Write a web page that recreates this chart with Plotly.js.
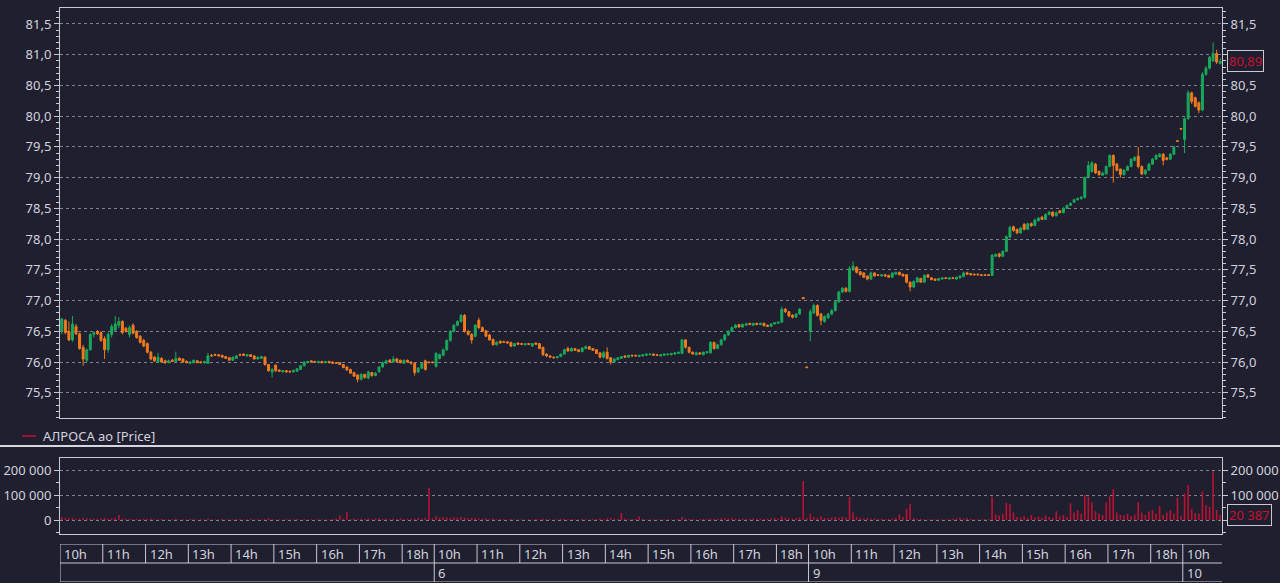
<!DOCTYPE html>
<html>
<head>
<meta charset="utf-8">
<script src="https://cdn.plot.ly/plotly-3.0.1.min.js"></script>
<style>
  html, body { margin: 0; padding: 0; background: #1f1f30; }
  #chart { width: 1280px; height: 583px; }
</style>
</head>
<body>
<div id="chart"></div>
<script>
// ---------------- DATA (5-minute candles, ALROSA) ----------------
const dayLabels = ['', '6', '9', '10'];
const hourLabels = ['10h','11h','12h','13h','14h','15h','16h','17h','18h'];
const lastDayHours = ['10h'];
const seriesName = 'АЛРОСА ао [Price]';

// Day 1
const open1 = [76.50,76.68,76.50,76.36,76.58,76.46,76.24,76.03,76.20,76.45, 76.50,76.48,76.38,76.20,76.45,76.52,76.60,76.66,76.55,76.45, 76.60,76.50,76.42,76.35,76.30,76.16,76.08,76.00,76.06,76.02, 75.99,76.03,76.01,76.06,76.05,76.01,75.98,75.99,76.02,76.00, 75.99,75.98,76.11,76.12,76.12,76.11,76.09,76.07,76.03,76.06, 76.12,76.13,76.10,76.12,76.10,76.05,76.06,76.08,75.96,75.84, 75.95,75.87,75.84,75.86,75.85,75.84,75.85,75.88,75.94,75.99, 76.02,76.01,75.99,76.01,75.99,76.01,76.00,75.99,75.99,75.96, 75.92,75.88,75.83,75.79,75.72,75.80,75.74,75.83,75.78,75.84, 75.92,75.98,76.03,76.00,76.05,76.03,75.98,76.03,76.00,75.98, 75.84,75.90,76.02,76.00,76.00];
const high1 = [76.72,76.70,76.66,76.75,76.62,76.48,76.28,76.22,76.47,76.50, 76.52,76.50,76.42,76.48,76.62,76.75,76.73,76.68,76.57,76.60, 76.63,76.52,76.44,76.38,76.32,76.18,76.10,76.15,76.08,76.04, 76.04,76.05,76.17,76.08,76.06,76.03,76.02,76.04,76.03,76.02, 76.02,76.15,76.13,76.14,76.13,76.12,76.10,76.08,76.09,76.12, 76.14,76.14,76.13,76.13,76.11,76.09,76.10,76.09,75.97,75.90, 75.96,75.88,75.87,75.87,75.86,75.88,75.90,75.95,76.01,76.02, 76.03,76.02,76.02,76.02,76.02,76.02,76.01,76.00,76.00,75.97, 75.93,75.89,75.84,75.80,75.82,75.81,75.86,75.84,75.84,75.93, 76.01,76.04,76.05,76.10,76.07,76.04,76.04,76.04,76.01,75.99, 75.92,76.00,76.04,76.01,76.01];
const low1 = [76.45,76.45,76.34,76.33,76.44,76.20,75.94,76.00,76.18,76.40, 76.44,76.33,76.05,76.15,76.40,76.50,76.55,76.45,76.48,76.40, 76.45,76.38,76.30,76.24,76.14,76.03,76.00,75.98,75.99,75.97, 75.98,76.00,76.00,76.02,75.99,75.98,75.97,75.98,75.98,75.98, 75.97,75.97,76.09,76.10,76.09,76.07,76.05,76.02,76.02,76.05, 76.10,76.10,76.09,76.08,76.04,76.04,76.05,75.94,75.84,75.75, 75.84,75.84,75.83,75.83,75.83,75.83,75.84,75.87,75.93,75.98, 75.99,75.99,75.98,75.98,75.98,75.98,75.97,75.97,75.95,75.90, 75.86,75.81,75.76,75.67,75.70,75.73,75.72,75.76,75.77,75.83, 75.91,75.97,75.99,75.99,76.00,75.98,75.97,75.99,75.96,75.78, 75.82,75.89,75.86,75.99,75.99];
const close1 = [76.70,76.48,76.36,76.62,76.46,76.22,76.05,76.20,76.45,76.48, 76.46,76.35,76.20,76.45,76.58,76.62,76.66,76.48,76.50,76.56, 76.47,76.40,76.32,76.26,76.16,76.05,76.02,76.08,76.00,75.99, 76.02,76.01,76.06,76.03,76.00,75.99,76.00,76.03,75.99,75.99, 76.01,76.10,76.10,76.11,76.10,76.08,76.06,76.03,76.08,76.10, 76.11,76.11,76.12,76.09,76.05,76.08,76.09,75.96,75.86,75.88, 75.86,75.85,75.86,75.84,75.84,75.86,75.89,75.94,76.00,76.01, 76.00,76.00,76.01,75.99,76.01,75.99,75.98,75.98,75.96,75.91, 75.87,75.82,75.77,75.72,75.80,75.75,75.84,75.78,75.82,75.92, 75.99,76.02,76.00,76.05,76.01,75.99,76.03,76.00,75.98,75.83, 75.90,75.98,75.88,75.99,75.99];
const volume1 = [12000,9000,7000,8000,5000,6000,9000,7000,6000,5000, 4000,6000,8000,5000,7000,9000,20000,6000,4000,5000, 3000,4000,3000,5000,4000,6000,3000,2000,4000,3000, 2000,3000,5000,2000,3000,2000,4000,3000,2000,3000, 2000,6000,3000,2000,3000,4000,2000,3000,2000,4000, 3000,2000,3000,5000,2000,3000,2000,4000,7000,3000, 2000,3000,2000,3000,2000,3000,4000,2000,3000,2000, 3000,2000,3000,2000,3000,2000,4000,6000,18000,5000, 33000,4000,6000,3000,5000,4000,7000,3000,5000,8000, 4000,6000,3000,5000,4000,7000,3000,5000,4000,6000, 8000,5000,9000,128000,6000];

// Day 2 (6)
const open2 = [75.93,76.06,76.11,76.20,76.35,76.50,76.60,76.66,76.76,76.50, 76.45,76.42,76.68,76.56,76.51,76.44,76.37,76.28,76.34,76.33, 76.33,76.32,76.26,76.31,76.30,76.28,76.30,76.26,76.31,76.30, 76.24,76.13,76.10,76.08,76.07,76.09,76.13,76.22,76.18,76.22, 76.20,76.17,76.22,76.25,76.22,76.20,76.15,76.08,76.16,76.07, 76.00,76.04,76.06,76.10,76.08,76.11,76.11,76.09,76.10,76.11, 76.12,76.13,76.12,76.10,76.11,76.12,76.12,76.13,76.14,76.14, 76.36,76.24,76.16,76.12,76.15,76.12,76.15,76.15,76.32,76.22, 76.28,76.36,76.44,76.50,76.56,76.61,76.57,76.60,76.63,76.60, 76.63,76.61,76.63,76.60,76.58,76.62,76.63,76.65,76.86,76.82, 76.76,76.73,76.78,77.05,75.92];
const high2 = [76.16,76.14,76.22,76.37,76.52,76.62,76.68,76.78,76.78,76.52, 76.47,76.62,76.72,76.58,76.52,76.46,76.38,76.34,76.35,76.35, 76.34,76.33,76.31,76.32,76.31,76.31,76.31,76.31,76.32,76.31, 76.25,76.14,76.11,76.09,76.10,76.14,76.22,76.25,76.24,76.23, 76.21,76.24,76.27,76.26,76.23,76.21,76.16,76.18,76.24,76.08, 76.06,76.08,76.10,76.11,76.12,76.12,76.12,76.12,76.13,76.14, 76.14,76.14,76.13,76.13,76.14,76.14,76.15,76.16,76.17,76.38, 76.37,76.25,76.17,76.17,76.16,76.17,76.18,76.34,76.33,76.30, 76.38,76.46,76.52,76.58,76.62,76.62,76.63,76.64,76.64,76.64, 76.64,76.64,76.64,76.61,76.63,76.65,76.66,76.90,76.88,76.83, 76.78,76.80,76.88,77.06,75.93];
const low2 = [75.91,76.04,76.10,76.18,76.33,76.48,76.58,76.64,76.48,76.43, 76.30,76.40,76.54,76.49,76.41,76.35,76.27,76.27,76.30,76.31, 76.30,76.24,76.25,76.28,76.28,76.27,76.28,76.25,76.28,76.21, 76.10,76.08,76.07,76.06,76.06,76.08,76.12,76.17,76.17,76.18, 76.16,76.16,76.21,76.20,76.18,76.13,76.06,76.06,76.04,75.96, 75.98,76.03,76.05,76.07,76.07,76.09,76.09,76.08,76.09,76.10, 76.11,76.10,76.10,76.09,76.10,76.11,76.11,76.12,76.13,76.13, 76.22,76.14,76.12,76.11,76.12,76.11,76.14,76.14,76.20,76.21, 76.27,76.35,76.43,76.49,76.55,76.56,76.56,76.59,76.60,76.59, 76.60,76.60,76.58,76.57,76.57,76.61,76.62,76.64,76.80,76.73, 76.71,76.72,76.77,77.03,75.90];
const close2 = [76.14,76.12,76.20,76.35,76.50,76.60,76.66,76.76,76.50,76.45, 76.36,76.60,76.56,76.50,76.42,76.36,76.28,76.32,76.31,76.32, 76.31,76.26,76.30,76.29,76.29,76.30,76.29,76.30,76.29,76.22, 76.12,76.10,76.08,76.07,76.09,76.13,76.20,76.18,76.22,76.19, 76.17,76.23,76.25,76.21,76.19,76.14,76.08,76.15,76.06,76.00, 76.05,76.07,76.09,76.08,76.11,76.10,76.10,76.11,76.12,76.13, 76.13,76.11,76.11,76.12,76.13,76.13,76.14,76.15,76.16,76.36, 76.24,76.16,76.13,76.15,76.13,76.16,76.17,76.32,76.22,76.28, 76.36,76.44,76.50,76.56,76.60,76.57,76.61,76.62,76.61,76.63, 76.61,76.63,76.59,76.58,76.62,76.64,76.65,76.86,76.82,76.75, 76.73,76.78,76.86,77.03,75.91];
const volume2 = [15000,9000,12000,10000,8000,11000,9000,12000,10000,7000, 8000,9000,6000,5000,7000,4000,6000,3000,4000,3000, 2000,4000,3000,2000,3000,2000,3000,2000,4000,3000, 5000,4000,3000,2000,3000,4000,5000,3000,4000,2000, 3000,4000,3000,2000,3000,4000,6000,4000,7000,9000, 5000,4000,28000,6000,3000,4000,5000,14000,4000,3000, 2000,3000,2000,3000,2000,3000,2000,3000,4000,12000, 6000,4000,3000,2000,3000,4000,3000,6000,4000,5000, 7000,8000,6000,9000,5000,4000,6000,5000,4000,7000, 5000,6000,4000,5000,6000,8000,5000,15000,9000,7000, 6000,8000,10000,156000,8000];

// Day 3 (9)
const open3 = [76.50,76.80,76.92,76.78,76.66,76.72,76.78,76.84,76.98,77.14, 77.20,77.15,77.50,77.54,77.47,77.45,77.40,77.35,77.45,77.42, 77.40,77.42,77.41,77.38,77.43,77.46,77.43,77.42,77.30,77.22, 77.30,77.36,77.30,77.42,77.37,77.35,77.33,77.35,77.37,77.35, 77.37,77.35,77.37,77.39,77.45,77.44,77.43,77.43,77.42,77.42, 77.42,77.41,77.72,77.76,77.72,77.80,78.03,78.20,78.16,78.10, 78.24,78.16,78.25,78.22,78.30,78.36,78.32,78.40,78.44,78.38, 78.46,78.43,78.50,78.55,78.60,78.64,78.66,78.68,79.00,79.10, 79.22,79.10,79.04,79.06,79.18,79.36,79.22,79.14,79.05,79.12, 79.18,79.28,79.35,79.18,79.06,79.12,79.22,79.30,79.34,79.38, 79.32,79.30,79.38,79.60,79.80];
const high3 = [76.86,76.95,76.94,76.80,76.76,76.80,76.86,77.00,77.16,77.22, 77.22,77.56,77.64,77.56,77.48,77.46,77.41,77.47,77.46,77.43, 77.43,77.43,77.42,77.46,77.47,77.47,77.44,77.43,77.31,77.33, 77.39,77.37,77.43,77.43,77.38,77.36,77.37,77.38,77.38,77.38, 77.38,77.39,77.41,77.47,77.47,77.45,77.44,77.44,77.43,77.43, 77.43,77.76,77.77,77.78,77.82,78.06,78.22,78.22,78.17,78.20, 78.26,78.27,78.27,78.33,78.36,78.37,78.42,78.46,78.45,78.45, 78.47,78.52,78.56,78.60,78.66,78.68,78.70,79.02,79.27,79.27, 79.24,79.12,79.10,79.20,79.38,79.38,79.24,79.15,79.14,79.20, 79.32,79.35,79.50,79.20,79.14,79.24,79.32,79.38,79.40,79.40, 79.34,79.40,79.52,79.61,79.81];
const low3 = [76.34,76.78,76.74,76.60,76.64,76.70,76.76,76.82,76.96,77.12, 77.13,77.13,77.48,77.44,77.41,77.37,77.33,77.34,77.39,77.40, 77.39,77.39,77.37,77.37,77.42,77.41,77.39,77.28,77.15,77.20, 77.29,77.29,77.29,77.37,77.33,77.32,77.32,77.34,77.35,77.34, 77.35,77.34,77.36,77.38,77.42,77.41,77.41,77.41,77.40,77.40, 77.40,77.40,77.71,77.70,77.71,77.79,78.02,78.12,78.08,78.09, 78.14,78.15,78.20,78.21,78.29,78.31,78.31,78.39,78.36,78.37, 78.42,78.42,78.49,78.54,78.59,78.63,78.64,78.66,78.99,79.08, 79.06,79.03,79.03,79.05,79.17,78.92,79.10,79.00,79.03,79.11, 79.17,79.27,79.15,79.04,79.04,79.11,79.21,79.29,79.33,79.20, 79.28,79.29,79.37,79.58,79.78];
const close3 = [76.82,76.92,76.76,76.68,76.74,76.78,76.84,76.98,77.14,77.20, 77.15,77.52,77.56,77.46,77.42,77.38,77.35,77.45,77.40,77.41, 77.42,77.40,77.38,77.45,77.46,77.42,77.40,77.30,77.22,77.31, 77.37,77.30,77.41,77.38,77.34,77.33,77.36,77.37,77.36,77.37, 77.36,77.38,77.40,77.45,77.43,77.42,77.42,77.42,77.41,77.41, 77.41,77.74,77.75,77.72,77.80,78.04,78.19,78.14,78.10,78.18, 78.16,78.25,78.22,78.31,78.34,78.32,78.40,78.44,78.38,78.43, 78.43,78.50,78.55,78.58,78.64,78.66,78.68,79.00,79.20,79.24, 79.08,79.05,79.07,79.18,79.36,79.20,79.12,79.05,79.12,79.18, 79.30,79.33,79.18,79.06,79.12,79.22,79.30,79.36,79.38,79.28, 79.30,79.38,79.50,79.59,79.79];
const volume3 = [25000,12000,9000,15000,8000,7000,10000,12000,9000,14000, 10000,92000,30000,12000,8000,6000,9000,5000,7000,4000, 5000,3000,4000,6000,8000,22000,12000,45000,65000,8000, 5000,4000,3000,2000,3000,2000,3000,2000,2000,3000, 5000,7000,9000,6000,8000,4000,3000,2000,3000,4000, 3000,93000,22000,18000,25000,69000,65000,30000,12000,10000, 15000,8000,20000,10000,14000,9000,18000,12000,8000,35000, 15000,20000,12000,67000,30000,40000,25000,100000,93000,70000, 35000,25000,20000,70000,95000,123000,30000,20000,18000,25000, 15000,22000,72000,30000,20000,35000,40000,25000,55000,20000, 30000,40000,25000,90000,15000];

// Day 4 (10)
const open4 = [79.62,79.96,80.38,80.30,80.22,80.10,80.68,80.78,80.90,81.02,80.86];
const high4 = [79.98,80.42,80.40,80.32,80.24,80.72,80.82,80.98,81.20,81.08,80.94];
const low4 = [79.40,79.94,80.20,80.14,80.05,80.08,80.66,80.76,80.88,80.85,80.84];
const close4 = [79.96,80.38,80.24,80.16,80.10,80.68,80.78,80.96,81.02,80.88,80.89];
const volume4 = [105000,140000,45000,28000,25000,115000,60000,52000,195000,40000,20387];

// ---------------- ASSEMBLY ----------------
const opens = [open1, open2, open3, open4];
const highs = [high1, high2, high3, high4];
const lows = [low1, low2, low3, low4];
const closes = [close1, close2, close3, close4];
const volumes = [volume1, volume2, volume3, volume4];
const dayHours = [hourLabels, hourLabels, hourLabels, lastDayHours];

const O = [].concat(...opens), H = [].concat(...highs), L = [].concat(...lows), C = [].concat(...closes), V = [].concat(...volumes);
const idx = C.map((_, i) => i);
const dayStart = [];
let acc = 0;
closes.forEach(d => { dayStart.push(acc); acc += d.length; });
const N = C.length;
const xRange = [-0.5, N - 0.5];

const BG = '#1f1f30';
const FRAME = '#c9c9d3';
const GRID = '#80808f';
const TXT = '#d2d2dc';
const RED = '#c8102e';
const FONT = 'Noto Sans, Open Sans, sans-serif';

const xd = [60/1280, 1222/1280];
const priceDom = [1 - 418/583, 1 - 8/583];
const volDom = [1 - 534/583, 1 - 458/583];
const timeDom = [1 - 582/583, 1 - 544/583];

const traces = [
  {
    type: 'candlestick', x: idx, open: O, high: H, low: L, close: C,
    xaxis: 'x', yaxis: 'y', whiskerwidth: 0, hoverinfo: 'skip', showlegend: false,
    increasing: { line: { color: '#19a85c', width: 1 }, fillcolor: '#19a85c' },
    decreasing: { line: { color: '#f27b1d', width: 1 }, fillcolor: '#f27b1d' }
  },
  { type: 'scatter', mode: 'markers', x: [idx[0]], y: [C[0]], xaxis: 'x', yaxis: 'y2',
    marker: { opacity: 0 }, hoverinfo: 'skip', showlegend: false },
  {
    type: 'bar', x: idx, y: V, xaxis: 'x2', yaxis: 'y3', width: 0.45,
    marker: { color: '#bc1230', line: { width: 0 } }, hoverinfo: 'skip', showlegend: false
  },
  { type: 'scatter', mode: 'markers', x: [idx[0]], y: [0], xaxis: 'x2', yaxis: 'y4',
    marker: { opacity: 0 }, hoverinfo: 'skip', showlegend: false },
  { type: 'scatter', mode: 'markers', x: [idx[0]], y: [1], xaxis: 'x3', yaxis: 'y5',
    marker: { opacity: 0 }, hoverinfo: 'skip', showlegend: false }
];

const yPriceCommon = {
  range: [75.09, 81.76], tick0: 75.5, dtick: 0.5, tickformat: '.1f',
  ticks: 'outside', ticklen: 5, tickcolor: FRAME, tickwidth: 1,
  minor: { dtick: 0.1, ticks: 'outside', ticklen: 3, tickcolor: FRAME, showgrid: false },
  zeroline: false, showline: true, linecolor: FRAME, linewidth: 1,
  tickfont: { family: FONT, size: 13, color: TXT }, fixedrange: true
};
const yVolCommon = {
  range: [-56000, 248000], tick0: 0, dtick: 100000, tickformat: ',.0f',
  ticks: 'outside', ticklen: 5, tickcolor: FRAME, tickwidth: 1,
  minor: { dtick: 50000, ticks: 'outside', ticklen: 3, tickcolor: FRAME, showgrid: false },
  zeroline: false, showline: true, linecolor: FRAME, linewidth: 1,
  tickfont: { family: FONT, size: 13, color: TXT }, fixedrange: true
};

const layout = {
  width: 1280, height: 583, autosize: false,
  margin: { l: 0, r: 0, t: 0, b: 0 },
  paper_bgcolor: BG, plot_bgcolor: BG,
  separators: ', ',
  showlegend: false,
  boxgap: 0.22,
  font: { family: FONT, size: 13, color: TXT },
  xaxis: { domain: xd, range: xRange, anchor: 'y', showticklabels: false, ticks: '',
    showgrid: false, zeroline: false, showline: true, mirror: true, linecolor: FRAME,
    rangeslider: { visible: false }, fixedrange: true },
  yaxis: Object.assign({}, yPriceCommon, { domain: priceDom, anchor: 'x', side: 'left', mirror: true,
    showgrid: true, gridcolor: GRID, griddash: '3px,3px', gridwidth: 1 }),
  yaxis2: Object.assign({}, yPriceCommon, { overlaying: 'y', anchor: 'x', side: 'right', showgrid: false }),
  xaxis2: { domain: xd, range: xRange, anchor: 'y3', showticklabels: false, ticks: '',
    showgrid: false, zeroline: false, showline: true, mirror: true, linecolor: FRAME, fixedrange: true },
  yaxis3: Object.assign({}, yVolCommon, { domain: volDom, anchor: 'x2', side: 'left', mirror: true,
    showgrid: true, gridcolor: GRID, griddash: '3px,3px', gridwidth: 1 }),
  yaxis4: Object.assign({}, yVolCommon, { overlaying: 'y3', anchor: 'x2', side: 'right', showgrid: false }),
  xaxis3: { domain: xd, range: xRange, anchor: 'y5', visible: false, fixedrange: true },
  yaxis5: { domain: timeDom, range: [0, 2], anchor: 'x3', visible: false, fixedrange: true },
  shapes: [], annotations: []
};

// separator line between price and volume panes
layout.shapes.push({ type: 'line', xref: 'paper', yref: 'paper', x0: 0, x1: 1,
  y0: 1 - 446/583, y1: 1 - 446/583, line: { color: '#d6d6de', width: 2 } });

// time scale: horizontal rules
[0, 1, 2].forEach(v => layout.shapes.push({ type: 'line', xref: 'x3', yref: 'y5',
  x0: xRange[0], x1: xRange[1], y0: v, y1: v, line: { color: FRAME, width: 1 } }));

// time scale: hour cells and day cells
dayHours.forEach((hours, d) => {
  hours.forEach((h, k) => {
    const xb = dayStart[d] + 12 * k - 0.5;
    layout.shapes.push({ type: 'line', xref: 'x3', yref: 'y5', x0: xb, x1: xb,
      y0: k === 0 ? 0 : 1, y1: 2, line: { color: FRAME, width: 1 } });
    layout.annotations.push({ xref: 'x3', yref: 'y5', x: xb, y: 1.5, xanchor: 'left', yanchor: 'middle',
      xshift: 2, text: h, showarrow: false, font: { family: FONT, size: 13, color: TXT } });
  });
  if (dayLabels[d]) {
    layout.annotations.push({ xref: 'x3', yref: 'y5', x: dayStart[d] - 0.5, y: 0.5, xanchor: 'left',
      yanchor: 'middle', xshift: 2, text: dayLabels[d], showarrow: false,
      font: { family: FONT, size: 13, color: TXT } });
  }
});

// legend-like caption: short red line + series name
layout.shapes.push({ type: 'line', xref: 'paper', yref: 'paper', x0: 22/1280, x1: 36/1280,
  y0: 1 - 436/583, y1: 1 - 436/583, line: { color: RED, width: 1.5 } });
layout.annotations.push({ xref: 'paper', yref: 'paper', x: 41/1280, y: 1 - 436/583, xanchor: 'left',
  yanchor: 'middle', text: seriesName, showarrow: false, font: { family: FONT, size: 13, color: TXT } });

// last value markers
const lastClose = C[N - 1];
const lastVol = V[N - 1];
const fmtVol = String(lastVol).replace(/\B(?=(\d{3})+(?!\d))/g, ' ');
layout.annotations.push({ xref: 'paper', yref: 'y', x: 1227/1280, y: lastClose, xanchor: 'left', yanchor: 'middle',
  text: lastClose.toFixed(2).replace('.', ','), showarrow: false, bgcolor: BG, bordercolor: FRAME,
  borderwidth: 1, borderpad: 1, font: { family: FONT, size: 13, color: RED } });
layout.annotations.push({ xref: 'paper', yref: 'y3', x: 1227/1280, y: lastVol, xanchor: 'left', yanchor: 'middle',
  text: fmtVol, showarrow: false, bgcolor: BG, bordercolor: FRAME,
  borderwidth: 1, borderpad: 1, font: { family: FONT, size: 13, color: RED } });

Plotly.newPlot('chart', traces, layout, { displayModeBar: false, staticPlot: true });
</script>
</body>
</html>
